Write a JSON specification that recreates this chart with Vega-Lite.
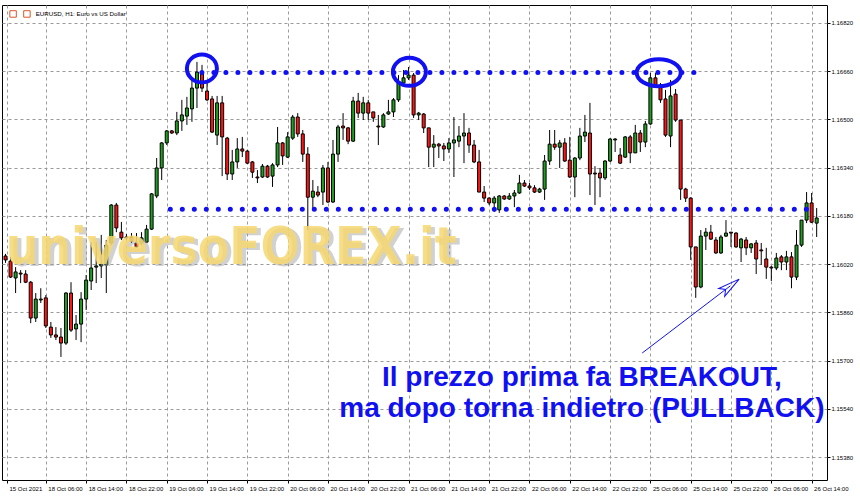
{
"$schema": "https://vega.github.io/schema/vega-lite/v6.json",
"width": 825, "height": 475,
"autosize": {"type": "none"},
"padding": {"left": 2, "top": 5, "right": 33, "bottom": 20},
"background": "#ffffff",
"config": {"view": {"stroke": "#000000", "strokeWidth": 1}},
"datasets": {
"candles": [
{"k":0,"o":1.16047,"h":1.16054,"l":1.16024,"c":1.16034},
{"k":1,"o":1.16030,"h":1.16044,"l":1.15974,"c":1.15977},
{"k":2,"o":1.15974,"h":1.16010,"l":1.15924,"c":1.15994},
{"k":3,"o":1.15990,"h":1.16000,"l":1.15957,"c":1.15987},
{"k":4,"o":1.15987,"h":1.16000,"l":1.15957,"c":1.15960},
{"k":5,"o":1.15960,"h":1.15964,"l":1.15824,"c":1.15841},
{"k":6,"o":1.15841,"h":1.15924,"l":1.15828,"c":1.15904},
{"k":7,"o":1.15901,"h":1.15940,"l":1.15891,"c":1.15904},
{"k":8,"o":1.15908,"h":1.15917,"l":1.15808,"c":1.15815},
{"k":9,"o":1.15811,"h":1.15828,"l":1.15775,"c":1.15785},
{"k":10,"o":1.15785,"h":1.15811,"l":1.15768,"c":1.15778},
{"k":11,"o":1.15778,"h":1.15808,"l":1.15712,"c":1.15758},
{"k":12,"o":1.15758,"h":1.15927,"l":1.15752,"c":1.15924},
{"k":13,"o":1.15924,"h":1.15960,"l":1.15795,"c":1.15801},
{"k":14,"o":1.15805,"h":1.15851,"l":1.15768,"c":1.15821},
{"k":15,"o":1.15821,"h":1.15927,"l":1.15761,"c":1.15904},
{"k":16,"o":1.15904,"h":1.15984,"l":1.15868,"c":1.15967},
{"k":17,"o":1.15964,"h":1.16093,"l":1.15934,"c":1.16007},
{"k":18,"o":1.16010,"h":1.16093,"l":1.15957,"c":1.16014},
{"k":19,"o":1.16014,"h":1.16117,"l":1.15974,"c":1.16020},
{"k":20,"o":1.16017,"h":1.16100,"l":1.15924,"c":1.16083},
{"k":21,"o":1.16090,"h":1.16219,"l":1.16083,"c":1.16216},
{"k":22,"o":1.16216,"h":1.16223,"l":1.16126,"c":1.16140},
{"k":23,"o":1.16126,"h":1.16160,"l":1.16100,"c":1.16107},
{"k":24,"o":1.16110,"h":1.16120,"l":1.16100,"c":1.16107},
{"k":25,"o":1.16110,"h":1.16123,"l":1.16090,"c":1.16097},
{"k":26,"o":1.16090,"h":1.16123,"l":1.16074,"c":1.16077},
{"k":27,"o":1.16090,"h":1.16126,"l":1.16083,"c":1.16107},
{"k":28,"o":1.16093,"h":1.16150,"l":1.16090,"c":1.16136},
{"k":29,"o":1.16136,"h":1.16256,"l":1.16133,"c":1.16253},
{"k":30,"o":1.16246,"h":1.16372,"l":1.16239,"c":1.16339},
{"k":31,"o":1.16339,"h":1.16425,"l":1.16299,"c":1.16422},
{"k":32,"o":1.16422,"h":1.16465,"l":1.16415,"c":1.16462},
{"k":33,"o":1.16462,"h":1.16465,"l":1.16452,"c":1.16455},
{"k":34,"o":1.16455,"h":1.16525,"l":1.16448,"c":1.16495},
{"k":35,"o":1.16495,"h":1.16565,"l":1.16462,"c":1.16515},
{"k":36,"o":1.16511,"h":1.16575,"l":1.16482,"c":1.16538},
{"k":37,"o":1.16535,"h":1.16638,"l":1.16492,"c":1.16604},
{"k":38,"o":1.16604,"h":1.16691,"l":1.16538,"c":1.16657},
{"k":39,"o":1.16654,"h":1.16681,"l":1.16591,"c":1.16604},
{"k":40,"o":1.16594,"h":1.16631,"l":1.16561,"c":1.16565},
{"k":41,"o":1.16568,"h":1.16578,"l":1.16455,"c":1.16458},
{"k":42,"o":1.16448,"h":1.16578,"l":1.16415,"c":1.16555},
{"k":43,"o":1.16555,"h":1.16578,"l":1.16312,"c":1.16442},
{"k":44,"o":1.16438,"h":1.16442,"l":1.16299,"c":1.16319},
{"k":45,"o":1.16319,"h":1.16399,"l":1.16299,"c":1.16359},
{"k":46,"o":1.16359,"h":1.16438,"l":1.16339,"c":1.16402},
{"k":47,"o":1.16402,"h":1.16442,"l":1.16375,"c":1.16395},
{"k":48,"o":1.16395,"h":1.16399,"l":1.16352,"c":1.16355},
{"k":49,"o":1.16359,"h":1.16362,"l":1.16306,"c":1.16325},
{"k":50,"o":1.16309,"h":1.16332,"l":1.16289,"c":1.16306},
{"k":51,"o":1.16309,"h":1.16352,"l":1.16306,"c":1.16345},
{"k":52,"o":1.16345,"h":1.16349,"l":1.16306,"c":1.16309},
{"k":53,"o":1.16312,"h":1.16355,"l":1.16276,"c":1.16349},
{"k":54,"o":1.16349,"h":1.16475,"l":1.16342,"c":1.16422},
{"k":55,"o":1.16422,"h":1.16425,"l":1.16349,"c":1.16379},
{"k":56,"o":1.16375,"h":1.16458,"l":1.16372,"c":1.16442},
{"k":57,"o":1.16438,"h":1.16515,"l":1.16432,"c":1.16508},
{"k":58,"o":1.16508,"h":1.16521,"l":1.16442,"c":1.16452},
{"k":59,"o":1.16452,"h":1.16465,"l":1.16359,"c":1.16385},
{"k":60,"o":1.16385,"h":1.16408,"l":1.16133,"c":1.16242},
{"k":61,"o":1.16242,"h":1.16299,"l":1.16200,"c":1.16262},
{"k":62,"o":1.16259,"h":1.16279,"l":1.16242,"c":1.16249},
{"k":63,"o":1.16259,"h":1.16349,"l":1.16216,"c":1.16339},
{"k":64,"o":1.16339,"h":1.16359,"l":1.16223,"c":1.16226},
{"k":65,"o":1.16226,"h":1.16432,"l":1.16223,"c":1.16385},
{"k":66,"o":1.16385,"h":1.16482,"l":1.16359,"c":1.16475},
{"k":67,"o":1.16478,"h":1.16521,"l":1.16432,"c":1.16472},
{"k":68,"o":1.16472,"h":1.16475,"l":1.16418,"c":1.16428},
{"k":69,"o":1.16428,"h":1.16575,"l":1.16425,"c":1.16561},
{"k":70,"o":1.16561,"h":1.16588,"l":1.16505,"c":1.16521},
{"k":71,"o":1.16521,"h":1.16575,"l":1.16498,"c":1.16555},
{"k":72,"o":1.16555,"h":1.16565,"l":1.16498,"c":1.16521},
{"k":73,"o":1.16525,"h":1.16525,"l":1.16492,"c":1.16505},
{"k":74,"o":1.16478,"h":1.16515,"l":1.16415,"c":1.16475},
{"k":75,"o":1.16475,"h":1.16521,"l":1.16472,"c":1.16515},
{"k":76,"o":1.16518,"h":1.16565,"l":1.16515,"c":1.16525},
{"k":77,"o":1.16525,"h":1.16571,"l":1.16508,"c":1.16565},
{"k":78,"o":1.16565,"h":1.16647,"l":1.16558,"c":1.16621},
{"k":79,"o":1.16621,"h":1.16664,"l":1.16614,"c":1.16638},
{"k":80,"o":1.16638,"h":1.16674,"l":1.16631,"c":1.16647},
{"k":81,"o":1.16647,"h":1.16654,"l":1.16505,"c":1.16515},
{"k":82,"o":1.16515,"h":1.16525,"l":1.16498,"c":1.16521},
{"k":83,"o":1.16518,"h":1.16521,"l":1.16455,"c":1.16472},
{"k":84,"o":1.16472,"h":1.16472,"l":1.16342,"c":1.16408},
{"k":85,"o":1.16408,"h":1.16448,"l":1.16342,"c":1.16418},
{"k":86,"o":1.16418,"h":1.16422,"l":1.16372,"c":1.16412},
{"k":87,"o":1.16412,"h":1.16422,"l":1.16362,"c":1.16402},
{"k":88,"o":1.16402,"h":1.16438,"l":1.16389,"c":1.16422},
{"k":89,"o":1.16422,"h":1.16508,"l":1.16309,"c":1.16432},
{"k":90,"o":1.16428,"h":1.16478,"l":1.16408,"c":1.16445},
{"k":91,"o":1.16445,"h":1.16521,"l":1.16355,"c":1.16455},
{"k":92,"o":1.16455,"h":1.16472,"l":1.16389,"c":1.16415},
{"k":93,"o":1.16415,"h":1.16432,"l":1.16355,"c":1.16359},
{"k":94,"o":1.16359,"h":1.16399,"l":1.16259,"c":1.16259},
{"k":95,"o":1.16259,"h":1.16279,"l":1.16226,"c":1.16239},
{"k":96,"o":1.16239,"h":1.16242,"l":1.16216,"c":1.16223},
{"k":97,"o":1.16223,"h":1.16246,"l":1.16193,"c":1.16239},
{"k":98,"o":1.16200,"h":1.16249,"l":1.16190,"c":1.16246},
{"k":99,"o":1.16246,"h":1.16249,"l":1.16233,"c":1.16236},
{"k":100,"o":1.16236,"h":1.16256,"l":1.16233,"c":1.16246},
{"k":101,"o":1.16246,"h":1.16266,"l":1.16209,"c":1.16256},
{"k":102,"o":1.16256,"h":1.16316,"l":1.16253,"c":1.16289},
{"k":103,"o":1.16289,"h":1.16299,"l":1.16276,"c":1.16279},
{"k":104,"o":1.16279,"h":1.16289,"l":1.16266,"c":1.16273},
{"k":105,"o":1.16273,"h":1.16282,"l":1.16256,"c":1.16259},
{"k":106,"o":1.16259,"h":1.16273,"l":1.16256,"c":1.16269},
{"k":107,"o":1.16269,"h":1.16382,"l":1.16233,"c":1.16362},
{"k":108,"o":1.16362,"h":1.16465,"l":1.16349,"c":1.16418},
{"k":109,"o":1.16418,"h":1.16465,"l":1.16399,"c":1.16408},
{"k":110,"o":1.16408,"h":1.16432,"l":1.16339,"c":1.16422},
{"k":111,"o":1.16422,"h":1.16438,"l":1.16359,"c":1.16362},
{"k":112,"o":1.16365,"h":1.16442,"l":1.16306,"c":1.16309},
{"k":113,"o":1.16309,"h":1.16375,"l":1.16242,"c":1.16372},
{"k":114,"o":1.16372,"h":1.16472,"l":1.16365,"c":1.16445},
{"k":115,"o":1.16445,"h":1.16515,"l":1.16425,"c":1.16458},
{"k":116,"o":1.16455,"h":1.16555,"l":1.16249,"c":1.16319},
{"k":117,"o":1.16322,"h":1.16345,"l":1.16216,"c":1.16319},
{"k":118,"o":1.16322,"h":1.16339,"l":1.16242,"c":1.16306},
{"k":119,"o":1.16306,"h":1.16365,"l":1.16299,"c":1.16362},
{"k":120,"o":1.16362,"h":1.16438,"l":1.16359,"c":1.16435},
{"k":121,"o":1.16432,"h":1.16438,"l":1.16392,"c":1.16435},
{"k":122,"o":1.16382,"h":1.16405,"l":1.16352,"c":1.16355},
{"k":123,"o":1.16375,"h":1.16445,"l":1.16372,"c":1.16442},
{"k":124,"o":1.16442,"h":1.16448,"l":1.16355,"c":1.16389},
{"k":125,"o":1.16389,"h":1.16482,"l":1.16389,"c":1.16455},
{"k":126,"o":1.16455,"h":1.16465,"l":1.16392,"c":1.16425},
{"k":127,"o":1.16425,"h":1.16495,"l":1.16408,"c":1.16485},
{"k":128,"o":1.16485,"h":1.16654,"l":1.16482,"c":1.16638},
{"k":129,"o":1.16638,"h":1.16654,"l":1.16608,"c":1.16614},
{"k":130,"o":1.16614,"h":1.16621,"l":1.16555,"c":1.16565},
{"k":131,"o":1.16568,"h":1.16598,"l":1.16442,"c":1.16448},
{"k":132,"o":1.16445,"h":1.16631,"l":1.16408,"c":1.16578},
{"k":133,"o":1.16584,"h":1.16601,"l":1.16492,"c":1.16498},
{"k":134,"o":1.16498,"h":1.16498,"l":1.16233,"c":1.16269},
{"k":135,"o":1.16269,"h":1.16273,"l":1.16226,"c":1.16239},
{"k":136,"o":1.16239,"h":1.16242,"l":1.16034,"c":1.16077},
{"k":137,"o":1.16077,"h":1.16077,"l":1.15908,"c":1.15944},
{"k":138,"o":1.15944,"h":1.16133,"l":1.15940,"c":1.16113},
{"k":139,"o":1.16113,"h":1.16140,"l":1.16067,"c":1.16126},
{"k":140,"o":1.16126,"h":1.16150,"l":1.16100,"c":1.16103},
{"k":141,"o":1.16100,"h":1.16110,"l":1.16054,"c":1.16057},
{"k":142,"o":1.16057,"h":1.16117,"l":1.16054,"c":1.16110},
{"k":143,"o":1.16113,"h":1.16166,"l":1.16110,"c":1.16123},
{"k":144,"o":1.16126,"h":1.16126,"l":1.16077,"c":1.16123},
{"k":145,"o":1.16123,"h":1.16126,"l":1.16074,"c":1.16077},
{"k":146,"o":1.16074,"h":1.16107,"l":1.16027,"c":1.16103},
{"k":147,"o":1.16100,"h":1.16110,"l":1.16050,"c":1.16074},
{"k":148,"o":1.16074,"h":1.16090,"l":1.16057,"c":1.16087},
{"k":149,"o":1.16090,"h":1.16100,"l":1.15987,"c":1.16037},
{"k":150,"o":1.16067,"h":1.16090,"l":1.16017,"c":1.16064},
{"k":151,"o":1.16037,"h":1.16074,"l":1.15971,"c":1.16010},
{"k":152,"o":1.16010,"h":1.16014,"l":1.15964,"c":1.16007},
{"k":153,"o":1.16007,"h":1.16057,"l":1.16000,"c":1.16040},
{"k":154,"o":1.16044,"h":1.16050,"l":1.16000,"c":1.16027},
{"k":155,"o":1.16027,"h":1.16064,"l":1.16000,"c":1.16044},
{"k":156,"o":1.16044,"h":1.16060,"l":1.15940,"c":1.15977},
{"k":157,"o":1.15977,"h":1.16133,"l":1.15967,"c":1.16083},
{"k":158,"o":1.16083,"h":1.16160,"l":1.16077,"c":1.16166},
{"k":159,"o":1.16166,"h":1.16259,"l":1.16156,"c":1.16223},
{"k":160,"o":1.16223,"h":1.16256,"l":1.16156,"c":1.16159},
{"k":161,"o":1.16156,"h":1.16206,"l":1.16110,"c":1.16173}
],
"levels": [
{"k1":38.98,"k2":137.75,"p":1.16656},
{"k1":32.71,"k2":159.7,"p":1.16202}
],
"notes": [
{"k":114.4,"p":1.15616,"t":"Il prezzo prima fa BREAKOUT,"},
{"k":114.4,"p":1.15513,"t":"ma dopo torna indietro (PULLBACK)"}
]
},
"layer": [
{
"data": {"name": "candles"},
"mark": {"type": "rule", "color": "#000000", "strokeWidth": 1, "clip": true},
"encoding": {
"x": {"field": "k", "type": "quantitative", "title": null, "scale": {"domain": [0.294, 162.06], "nice": false, "zero": false},
"axis": {"values": [0.3,4,8,12,16,20,24,28,32,36,40,44,48,52,56,60,64,68,72,76,80,84,88,92,96,100,104,108,112,116,120,124,128,132,136,140,144,148,152,156,160],
"labelExpr": "datum.value < 1 ? '15 Oct 2021' : (datum.value % 8 == 0 ? ['','18 Oct 06:00','18 Oct 14:00','18 Oct 22:00','19 Oct 06:00','19 Oct 14:00','19 Oct 22:00','20 Oct 06:00','20 Oct 14:00','20 Oct 22:00','21 Oct 06:00','21 Oct 14:00','21 Oct 22:00','22 Oct 06:00','22 Oct 14:00','22 Oct 22:00','25 Oct 06:00','25 Oct 14:00','25 Oct 22:00','26 Oct 06:00','26 Oct 14:00'][datum.value / 8] : '')",
"grid": true, "gridDash": [3, 3], "gridColor": "#9a9a9a", "gridWidth": 1,
"domain": false, "ticks": true, "tickSize": 3, "tickColor": "#000000",
"labelAlign": "left", "labelOffset": 2, "labelPadding": 2, "labelBaseline": "top",
"labelFont": "Liberation Sans", "labelFontSize": 6, "labelColor": "#000000",
"labelOverlap": false, "labelFlush": false, "labelBound": false}},
"y": {"field": "l", "type": "quantitative", "title": null, "scale": {"domain": [1.153037, 1.168797], "nice": false, "zero": false},
"axis": {"orient": "right", "values": [1.1538,1.1546,1.1554,1.1562,1.157,1.1578,1.1586,1.1594,1.1602,1.161,1.1618,1.1626,1.1634,1.1642,1.165,1.1658,1.1666,1.1674,1.1682],
"format": ".5f", "grid": true, "gridDash": [3, 3], "gridColor": "#9a9a9a", "gridWidth": 1,
"domain": false, "ticks": true, "tickSize": 3, "tickColor": "#000000",
"labelPadding": 1, "labelFont": "Liberation Sans", "labelFontSize": 6, "labelColor": "#000000",
"labelOverlap": false, "labelFlush": false, "labelBound": false}},
"y2": {"field": "h"}
}
},
{
"data": {"name": "candles"},
"mark": {"type": "bar", "width": 3, "stroke": "#000000", "strokeWidth": 1, "clip": true},
"encoding": {
"x": {"field": "k", "type": "quantitative", "title": null, "scale": {"domain": [0.294, 162.06], "nice": false, "zero": false}},
"y": {"field": "o", "type": "quantitative", "title": null, "scale": {"domain": [1.153037, 1.168797], "nice": false, "zero": false}},
"y2": {"field": "c"},
"color": {"condition": {"test": "datum.c > datum.o", "value": "#1f9e1f"}, "value": "#ff1414"}
}
},
{
"data": {"values": [{"k": 44.8, "p": 1.1602, "t": "universoFOREX.it"}]},
"mark": {"type": "text", "font": "DejaVu Sans Condensed, DejaVu Sans, sans-serif", "fontWeight": "bold", "fontSize": 51, "align": "center", "baseline": "alphabetic", "color": "#9a9a9a", "opacity": 0.45, "dx": 4, "dy": 2},
"encoding": {
"x": {"field": "k", "type": "quantitative", "title": null, "scale": {"domain": [0.294, 162.06], "nice": false, "zero": false}},
"y": {"field": "p", "type": "quantitative", "title": null, "scale": {"domain": [1.153037, 1.168797], "nice": false, "zero": false}},
"text": {"field": "t"}
}
},
{
"data": {"values": [{"k": 44.8, "p": 1.1602, "t": "universoFOREX.it"}]},
"mark": {"type": "text", "font": "DejaVu Sans Condensed, DejaVu Sans, sans-serif", "fontWeight": "bold", "fontSize": 51, "align": "center", "baseline": "alphabetic", "color": "#f6d870", "opacity": 0.85},
"encoding": {
"x": {"field": "k", "type": "quantitative", "title": null, "scale": {"domain": [0.294, 162.06], "nice": false, "zero": false}},
"y": {"field": "p", "type": "quantitative", "title": null, "scale": {"domain": [1.153037, 1.168797], "nice": false, "zero": false}},
"text": {"field": "t"}
}
},
{
"data": {"name": "levels"},
"mark": {"type": "rule", "color": "#1010f0", "strokeWidth": 5, "strokeDash": [0, 12], "strokeCap": "round"},
"encoding": {
"x": {"field": "k1", "type": "quantitative", "title": null, "scale": {"domain": [0.294, 162.06], "nice": false, "zero": false}},
"x2": {"field": "k2"},
"y": {"field": "p", "type": "quantitative", "title": null, "scale": {"domain": [1.153037, 1.168797], "nice": false, "zero": false}}
}
},
{
"data": {"values": [{"k": 38.98, "p": 1.16669}]},
"mark": {"type": "point", "filled": false, "stroke": "#1010f0", "strokeWidth": 4, "opacity": 1, "size": 900, "shape": "M-1,0 A1,0.933 0 1,0 1,0 A1,0.933 0 1,0 -1,0 Z"},
"encoding": {
"x": {"field": "k", "type": "quantitative", "title": null, "scale": {"domain": [0.294, 162.06], "nice": false, "zero": false}},
"y": {"field": "p", "type": "quantitative", "title": null, "scale": {"domain": [1.153037, 1.168797], "nice": false, "zero": false}}
}
},
{
"data": {"values": [{"k": 80.16, "p": 1.16658}]},
"mark": {"type": "point", "filled": false, "stroke": "#1010f0", "strokeWidth": 4, "opacity": 1, "size": 1089, "shape": "M-1,0 A1,0.85 0 1,0 1,0 A1,0.85 0 1,0 -1,0 Z"},
"encoding": {
"x": {"field": "k", "type": "quantitative", "title": null, "scale": {"domain": [0.294, 162.06], "nice": false, "zero": false}},
"y": {"field": "p", "type": "quantitative", "title": null, "scale": {"domain": [1.153037, 1.168797], "nice": false, "zero": false}}
}
},
{
"data": {"values": [{"k": 129.65, "p": 1.16655}]},
"mark": {"type": "point", "filled": false, "stroke": "#1010f0", "strokeWidth": 4, "opacity": 1, "size": 1936, "shape": "M-1,0 A1,0.614 0 1,0 1,0 A1,0.614 0 1,0 -1,0 Z"},
"encoding": {
"x": {"field": "k", "type": "quantitative", "title": null, "scale": {"domain": [0.294, 162.06], "nice": false, "zero": false}},
"y": {"field": "p", "type": "quantitative", "title": null, "scale": {"domain": [1.153037, 1.168797], "nice": false, "zero": false}}
}
},
{
"data": {"values": [{"k1": 126.37, "p1": 1.15725, "k2": 143.88, "p2": 1.15948}]},
"mark": {"type": "rule", "color": "#1010f0", "strokeWidth": 1},
"encoding": {
"x": {"field": "k1", "type": "quantitative", "title": null, "scale": {"domain": [0.294, 162.06], "nice": false, "zero": false}},
"y": {"field": "p1", "type": "quantitative", "title": null, "scale": {"domain": [1.153037, 1.168797], "nice": false, "zero": false}},
"x2": {"field": "k2"},
"y2": {"field": "p2"}
}
},
{
"data": {"values": [{"k": 143.88, "p": 1.15948}]},
"mark": {"type": "point", "filled": false, "stroke": "#1010f0", "strokeWidth": 1, "opacity": 1, "size": 484, "angle": 52.6, "shape": "M0,-1 L0.45,1 L0,0.55 L-0.45,1 Z"},
"encoding": {
"x": {"field": "k", "type": "quantitative", "title": null, "scale": {"domain": [0.294, 162.06], "nice": false, "zero": false}},
"y": {"field": "p", "type": "quantitative", "title": null, "scale": {"domain": [1.153037, 1.168797], "nice": false, "zero": false}}
}
},
{
"data": {"name": "notes"},
"mark": {"type": "text", "font": "Liberation Sans", "fontWeight": "bold", "fontSize": 28, "align": "center", "baseline": "alphabetic", "color": "#1010f0"},
"encoding": {
"x": {"field": "k", "type": "quantitative", "title": null, "scale": {"domain": [0.294, 162.06], "nice": false, "zero": false}},
"y": {"field": "p", "type": "quantitative", "title": null, "scale": {"domain": [1.153037, 1.168797], "nice": false, "zero": false}},
"text": {"field": "t"}
}
},
{
"data": {"values": [{"k": 5.98, "p": 1.1685, "t": "EURUSD, H1:  Euro vs US Dollar"}]},
"mark": {"type": "text", "font": "Liberation Sans", "fontSize": 6.2, "align": "left", "baseline": "middle", "color": "#000000"},
"encoding": {
"x": {"field": "k", "type": "quantitative", "title": null, "scale": {"domain": [0.294, 162.06], "nice": false, "zero": false}},
"y": {"field": "p", "type": "quantitative", "title": null, "scale": {"domain": [1.153037, 1.168797], "nice": false, "zero": false}},
"text": {"field": "t"}
}
},
{
"data": {"values": [{"k": 1.5, "p": 1.1685}, {"k": 4.25, "p": 1.1685}]},
"mark": {"type": "square", "filled": false, "stroke": "#d8572a", "strokeWidth": 1, "size": 42, "opacity": 1},
"encoding": {
"x": {"field": "k", "type": "quantitative", "title": null, "scale": {"domain": [0.294, 162.06], "nice": false, "zero": false}},
"y": {"field": "p", "type": "quantitative", "title": null, "scale": {"domain": [1.153037, 1.168797], "nice": false, "zero": false}}
}
}
]
}
